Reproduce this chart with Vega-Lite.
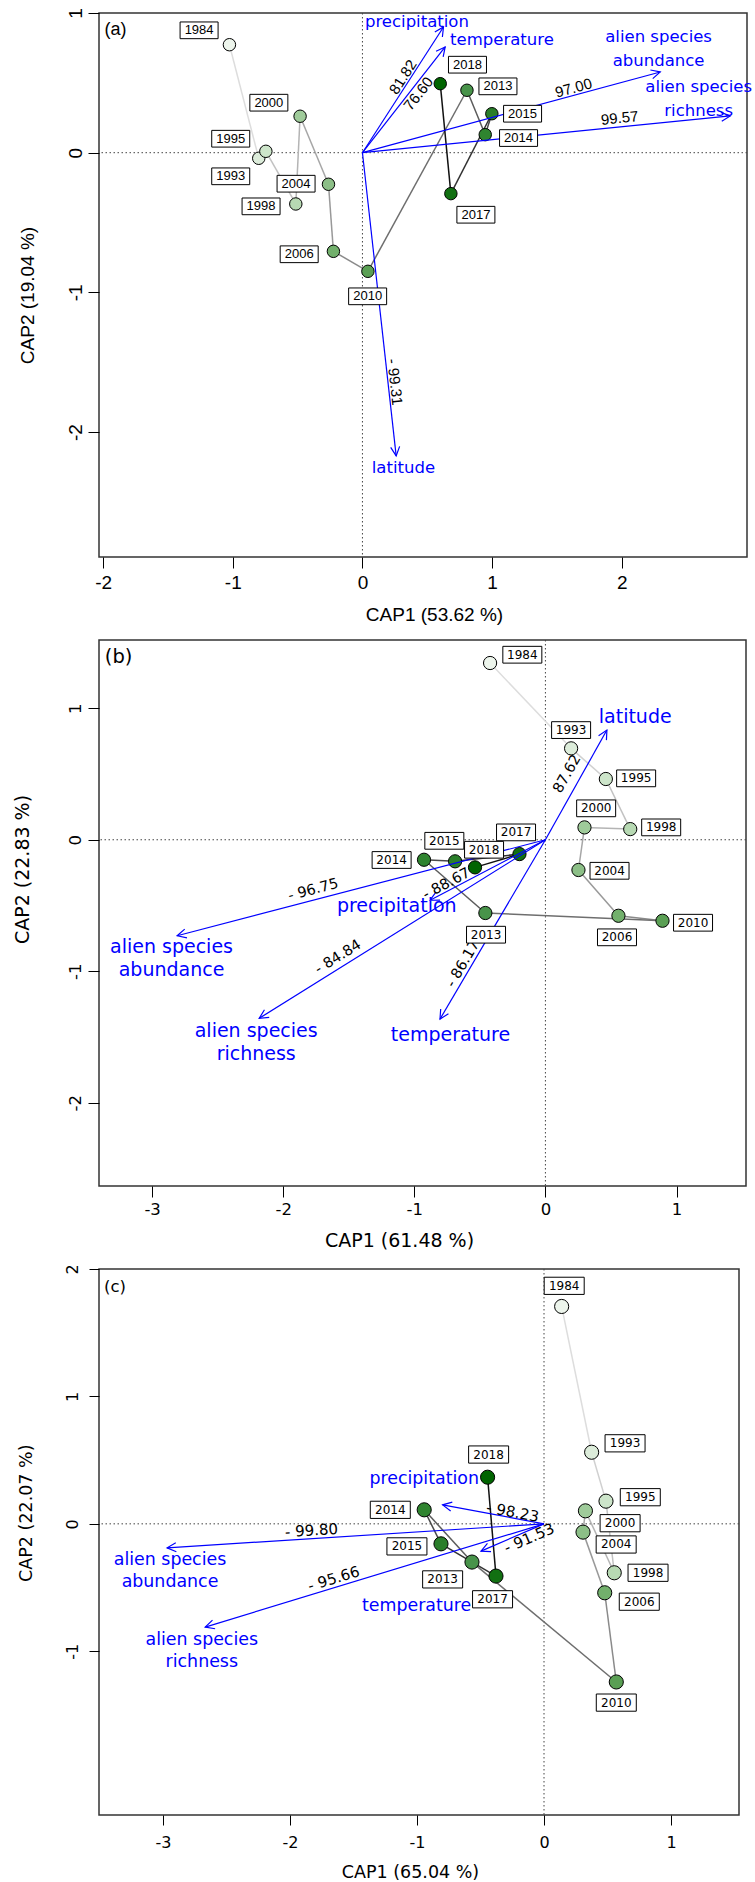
{
"$schema": "https://vega.github.io/schema/vega-lite/v6.json",
"background": "white",
"padding": {"left": 12, "top": 6, "right": 0, "bottom": 0},
"bounds": "flush",
"spacing": 83,
"resolve": {"scale": {"x": "independent", "y": "independent", "color": "independent", "fill": "independent"}},
"config": {
  "view": {"stroke": "#333", "strokeWidth": 1.5},
  "axis": {"grid": false, "domain": false, "tickColor": "#000", "tickWidth": 1, "labelColor": "#000", "titleColor": "#000", "titleFontWeight": "normal", "labelFlush": false, "labelOverlap": false}
},
"datasets": {
  "pa": [
    {"year": 1984, "x": -1.026, "y": 0.773, "lx": -1.26, "ly": 0.876},
    {"year": 1993, "x": -0.80, "y": -0.04, "lx": -1.016, "ly": -0.169},
    {"year": 1995, "x": -0.745, "y": 0.01, "lx": -1.016, "ly": 0.10},
    {"year": 1998, "x": -0.514, "y": -0.367, "lx": -0.782, "ly": -0.384},
    {"year": 2000, "x": -0.481, "y": 0.261, "lx": -0.722, "ly": 0.358},
    {"year": 2004, "x": -0.262, "y": -0.226, "lx": -0.512, "ly": -0.222},
    {"year": 2006, "x": -0.224, "y": -0.706, "lx": -0.488, "ly": -0.727},
    {"year": 2010, "x": 0.042, "y": -0.849, "lx": 0.04, "ly": -1.028},
    {"year": 2013, "x": 0.806, "y": 0.447, "lx": 1.045, "ly": 0.475},
    {"year": 2014, "x": 0.947, "y": 0.129, "lx": 1.204, "ly": 0.105},
    {"year": 2015, "x": 0.998, "y": 0.279, "lx": 1.235, "ly": 0.279},
    {"year": 2017, "x": 0.682, "y": -0.293, "lx": 0.875, "ly": -0.444},
    {"year": 2018, "x": 0.60, "y": 0.494, "lx": 0.81, "ly": 0.63}
  ],
  "pb": [
    {"year": 1984, "x": -0.422, "y": 1.344, "lx": -0.176, "ly": 1.407},
    {"year": 1993, "x": 0.196, "y": 0.695, "lx": 0.196, "ly": 0.834},
    {"year": 1995, "x": 0.461, "y": 0.462, "lx": 0.692, "ly": 0.467},
    {"year": 1998, "x": 0.647, "y": 0.081, "lx": 0.883, "ly": 0.094},
    {"year": 2000, "x": 0.298, "y": 0.094, "lx": 0.387, "ly": 0.239},
    {"year": 2004, "x": 0.252, "y": -0.230, "lx": 0.489, "ly": -0.236},
    {"year": 2006, "x": 0.557, "y": -0.578, "lx": 0.546, "ly": -0.742},
    {"year": 2010, "x": 0.893, "y": -0.616, "lx": 1.126, "ly": -0.631},
    {"year": 2013, "x": -0.458, "y": -0.557, "lx": -0.453, "ly": -0.722},
    {"year": 2014, "x": -0.926, "y": -0.152, "lx": -1.173, "ly": -0.154},
    {"year": 2015, "x": -0.689, "y": -0.164, "lx": -0.771, "ly": -0.008},
    {"year": 2017, "x": -0.198, "y": -0.109, "lx": -0.224, "ly": 0.056},
    {"year": 2018, "x": -0.537, "y": -0.210, "lx": -0.468, "ly": -0.076}
  ],
  "pc": [
    {"year": 1984, "x": 0.139, "y": 1.706, "lx": 0.159, "ly": 1.868},
    {"year": 1993, "x": 0.375, "y": 0.562, "lx": 0.638, "ly": 0.632},
    {"year": 1995, "x": 0.488, "y": 0.178, "lx": 0.758, "ly": 0.209},
    {"year": 1998, "x": 0.553, "y": -0.384, "lx": 0.819, "ly": -0.384},
    {"year": 2000, "x": 0.326, "y": 0.102, "lx": 0.599, "ly": 0.005},
    {"year": 2004, "x": 0.307, "y": -0.065, "lx": 0.568, "ly": -0.162},
    {"year": 2006, "x": 0.478, "y": -0.541, "lx": 0.75, "ly": -0.611},
    {"year": 2010, "x": 0.569, "y": -1.241, "lx": 0.569, "ly": -1.403},
    {"year": 2013, "x": -0.567, "y": -0.300, "lx": -0.798, "ly": -0.436},
    {"year": 2014, "x": -0.943, "y": 0.110, "lx": -1.21, "ly": 0.11},
    {"year": 2015, "x": -0.811, "y": -0.157, "lx": -1.079, "ly": -0.177},
    {"year": 2017, "x": -0.378, "y": -0.410, "lx": -0.405, "ly": -0.592},
    {"year": 2018, "x": -0.444, "y": 0.366, "lx": -0.436, "ly": 0.544}
  ],
  "aa": [
    {"v": "precipitation", "ax": 0.625, "ay": 0.90, "num": "81.82", "nx": 0.312, "ny": 0.542, "tx": 0.42, "ty": 0.936},
    {"v": "temperature", "ax": 0.638, "ay": 0.757, "num": "76.60", "nx": 0.432, "ny": 0.422, "tx": 1.076, "ty": 0.81},
    {"v": "alien species\nabundance", "ax": 2.297, "ay": 0.578, "num": "97.00", "nx": 1.628, "ny": 0.463, "tx": 2.284, "ty": 0.828},
    {"v": "alien species\nrichness", "ax": 2.837, "ay": 0.263, "num": "99.57", "nx": 1.983, "ny": 0.248, "tx": 2.593, "ty": 0.47},
    {"v": "latitude", "ax": 0.26, "ay": -2.17, "num": "- 99.31", "nx": 0.25, "ny": -1.641, "tx": 0.316, "ty": -2.26}
  ],
  "ab": [
    {"v": "latitude", "ax": 0.469, "ay": 0.834, "num": "87.62", "nx": 0.168, "ny": 0.50, "tx": 0.685, "ty": 0.931},
    {"v": "alien species\nabundance", "ax": -2.809, "ay": -0.730, "num": "- 96.75", "nx": -1.771, "ny": -0.383, "tx": -2.852, "ty": -0.813},
    {"v": "precipitation", "ax": -0.88, "ay": -0.46, "num": "- 88.67", "nx": -0.753, "ny": -0.337, "tx": -1.134, "ty": -0.502},
    {"v": "alien species\nrichness", "ax": -2.183, "ay": -1.358, "num": "- 84.84", "nx": -1.58, "ny": -0.894, "tx": -2.206, "ty": -1.452},
    {"v": "temperature", "ax": -0.804, "ay": -1.364, "num": "- 86.17", "nx": -0.626, "ny": -0.945, "tx": -0.724, "ty": -1.485}
  ],
  "ac": [
    {"v": "precipitation", "ax": -0.798, "ay": 0.149, "num": "- 98.23", "nx": -0.247, "ny": 0.092, "tx": -0.943, "ty": 0.353},
    {"v": "alien species\nabundance", "ax": -2.967, "ay": -0.188, "num": "- 99.80", "nx": -1.83, "ny": -0.052, "tx": -2.944, "ty": -0.286},
    {"v": "alien species\nrichness", "ax": -2.667, "ay": -0.81, "num": "- 95.66", "nx": -1.655, "ny": -0.431, "tx": -2.694, "ty": -0.913},
    {"v": "temperature", "ax": -0.496, "ay": -0.214, "num": "- 91.53", "nx": -0.116, "ny": -0.112, "tx": -1.003, "ty": -0.648}
  ]
},
"vconcat": [
{
  "width": 648, "height": 544,
  "layer": [
    {"data": {"values": [{"z": 0}]}, "mark": {"type": "rule", "color": "#444", "strokeDash": [1.5, 2.5], "strokeWidth": 1},
     "encoding": {"y": {"field": "z", "type": "quantitative", "scale": {"domain": [-2.894, 1.0], "nice": false, "zero": false}, "title": "CAP2 (19.04 %)"}}},
    {"data": {"values": [{"z": 0}]}, "mark": {"type": "rule", "color": "#444", "strokeDash": [1.5, 2.5], "strokeWidth": 1},
     "encoding": {"x": {"field": "z", "type": "quantitative", "scale": {"domain": [-2.032, 2.966], "nice": false, "zero": false}, "title": "CAP1 (53.62 %)"}}},
    {"data": {"name": "pa"},
     "transform": [{"window": [{"op": "lead", "field": "x", "as": "xe"}, {"op": "lead", "field": "y", "as": "ye"}], "sort": [{"field": "year", "order": "ascending"}]}, {"filter": "isValid(datum.xe)"}],
     "mark": {"type": "rule", "strokeWidth": 1.5},
     "encoding": {
       "x": {"field": "x", "type": "quantitative", "scale": {"domain": [-2.032, 2.966], "nice": false, "zero": false}, "title": "CAP1 (53.62 %)"},
       "y": {"field": "y", "type": "quantitative", "scale": {"domain": [-2.894, 1.0], "nice": false, "zero": false}, "title": "CAP2 (19.04 %)"},
       "x2": {"field": "xe"}, "y2": {"field": "ye"},
       "color": {"field": "year", "type": "ordinal", "legend": null, "scale": {"domain": [1984,1993,1995,1998,2000,2004,2006,2010,2013,2014,2015,2017,2018], "range": ["#dddddd","#d0d0d0","#c2c2c2","#b4b4b4","#a6a6a6","#999999","#8a8a8a","#6e6e6e","#5c5c5c","#4a4a4a","#333333","#111111","#000000"]}}
     }},
    {"data": {"name": "pa"},
     "mark": {"type": "point", "shape": "circle", "filled": true, "stroke": "#000", "strokeWidth": 1, "opacity": 1, "size": 155},
     "encoding": {
       "x": {"field": "x", "type": "quantitative", "scale": {"domain": [-2.032, 2.966], "nice": false, "zero": false}, "title": "CAP1 (53.62 %)",
             "axis": {"values": [-2, -1, 0, 1, 2], "labelExpr": "'' + datum.value", "tickSize": 11, "labelPadding": 5, "labelFont": "Liberation Sans", "labelFontSize": 19, "titleFont": "Liberation Sans", "titleFontSize": 19, "titleX": 335, "titleY": 57, "titleBaseline": "middle", "titleAlign": "center"}},
       "y": {"field": "y", "type": "quantitative", "scale": {"domain": [-2.894, 1.0], "nice": false, "zero": false}, "title": "CAP2 (19.04 %)",
             "axis": {"values": [-2, -1, 0, 1], "labelExpr": "'' + datum.value", "tickSize": 11, "labelPadding": 3, "labelAngle": -90, "labelAlign": "center", "labelBaseline": "bottom", "labelFont": "Liberation Sans", "labelFontSize": 19, "titleFont": "Liberation Sans", "titleFontSize": 19, "titleX": -72, "titleY": 282, "titleBaseline": "middle", "titleAlign": "center", "titleAngle": -90}},
       "fill": {"field": "year", "type": "ordinal", "legend": null, "scale": {"domain": [1984,1993,1995,1998,2000,2004,2006,2010,2013,2014,2015,2017,2018], "range": ["#edf5ec","#dcecda","#cde5ca","#b7d9b3","#9fcb9a","#8cbf87","#72b06c","#5a9f54","#48934a","#2f842f","#2a7e2a","#127012","#006400"]}}
     }},
    {"data": {"name": "aa"}, "mark": {"type": "rule", "color": "#0000ff", "strokeWidth": 1.2},
     "encoding": {
       "x": {"field": "ax", "type": "quantitative", "scale": {"domain": [-2.032, 2.966], "nice": false, "zero": false}, "title": "CAP1 (53.62 %)"},
       "y": {"field": "ay", "type": "quantitative", "scale": {"domain": [-2.894, 1.0], "nice": false, "zero": false}, "title": "CAP2 (19.04 %)"},
       "x2": {"datum": 0}, "y2": {"datum": 0}}},
    {"data": {"name": "aa"},
     "transform": [{"calculate": "atan2(datum.ax * 129.6, datum.ay * 139.7) * 180 / PI", "as": "ha"}],
     "mark": {"type": "point", "shape": "M-0.5,1L0,0L0.5,1", "filled": false, "stroke": "#0000ff", "strokeWidth": 1.2, "size": 324, "opacity": 1},
     "encoding": {
       "x": {"field": "ax", "type": "quantitative", "scale": {"domain": [-2.032, 2.966], "nice": false, "zero": false}, "title": "CAP1 (53.62 %)"},
       "y": {"field": "ay", "type": "quantitative", "scale": {"domain": [-2.894, 1.0], "nice": false, "zero": false}, "title": "CAP2 (19.04 %)"},
       "angle": {"field": "ha", "type": "quantitative", "scale": null}}},
    {"data": {"name": "aa"},
     "mark": {"type": "text", "color": "#0000ff", "font": "DejaVu Sans", "fontSize": 16.5, "lineBreak": "\n", "lineHeight": 24, "align": "center", "baseline": "middle"},
     "encoding": {
       "x": {"field": "tx", "type": "quantitative", "scale": {"domain": [-2.032, 2.966], "nice": false, "zero": false}, "title": "CAP1 (53.62 %)"},
       "y": {"field": "ty", "type": "quantitative", "scale": {"domain": [-2.894, 1.0], "nice": false, "zero": false}, "title": "CAP2 (19.04 %)"},
       "text": {"field": "v", "type": "nominal"}}},
    {"data": {"name": "aa"},
     "transform": [{"calculate": "atan2(-datum.ay * 139.7, datum.ax * 129.6) * 180 / PI", "as": "r0"}, {"calculate": "datum.r0 > 90 ? datum.r0 - 180 : (datum.r0 < -90 ? datum.r0 + 180 : datum.r0)", "as": "ra"}],
     "mark": {"type": "text", "color": "#000", "font": "Liberation Sans", "fontSize": 15, "align": "center", "baseline": "middle"},
     "encoding": {
       "x": {"field": "nx", "type": "quantitative", "scale": {"domain": [-2.032, 2.966], "nice": false, "zero": false}, "title": "CAP1 (53.62 %)"},
       "y": {"field": "ny", "type": "quantitative", "scale": {"domain": [-2.894, 1.0], "nice": false, "zero": false}, "title": "CAP2 (19.04 %)"},
       "text": {"field": "num", "type": "nominal"},
       "angle": {"field": "ra", "type": "quantitative", "scale": null}}},
    {"data": {"name": "pa"},
     "mark": {"type": "point", "shape": "M-1,-0.44L1,-0.44L1,0.44L-1,0.44Z", "filled": true, "fill": "#fff", "stroke": "#000", "strokeWidth": 1, "size": 1444, "opacity": 1},
     "encoding": {
       "x": {"field": "lx", "type": "quantitative", "scale": {"domain": [-2.032, 2.966], "nice": false, "zero": false}, "title": "CAP1 (53.62 %)"},
       "y": {"field": "ly", "type": "quantitative", "scale": {"domain": [-2.894, 1.0], "nice": false, "zero": false}, "title": "CAP2 (19.04 %)"}}},
    {"data": {"name": "pa"},
     "mark": {"type": "text", "color": "#000", "font": "Liberation Sans", "fontSize": 13, "align": "center", "baseline": "middle"},
     "encoding": {
       "x": {"field": "lx", "type": "quantitative", "scale": {"domain": [-2.032, 2.966], "nice": false, "zero": false}, "title": "CAP1 (53.62 %)"},
       "y": {"field": "ly", "type": "quantitative", "scale": {"domain": [-2.894, 1.0], "nice": false, "zero": false}, "title": "CAP2 (19.04 %)"},
       "text": {"field": "year", "type": "nominal"}}},
    {"data": {"values": [{"t": "(a)", "x": -1.99, "y": 0.876}]},
     "mark": {"type": "text", "color": "#000", "font": "Liberation Sans", "fontSize": 18, "align": "left", "baseline": "middle"},
     "encoding": {
       "x": {"field": "x", "type": "quantitative", "scale": {"domain": [-2.032, 2.966], "nice": false, "zero": false}, "title": "CAP1 (53.62 %)"},
       "y": {"field": "y", "type": "quantitative", "scale": {"domain": [-2.894, 1.0], "nice": false, "zero": false}, "title": "CAP2 (19.04 %)"},
       "text": {"field": "t", "type": "nominal"}}}
  ]
},
{
  "width": 647, "height": 546,
  "layer": [
    {"data": {"values": [{"z": 0}]}, "mark": {"type": "rule", "color": "#444", "strokeDash": [1.5, 2.5], "strokeWidth": 1},
     "encoding": {"y": {"field": "z", "type": "quantitative", "scale": {"domain": [-2.633, 1.519], "nice": false, "zero": false}, "title": "CAP2 (22.83 %)"}}},
    {"data": {"values": [{"z": 0}]}, "mark": {"type": "rule", "color": "#444", "strokeDash": [1.5, 2.5], "strokeWidth": 1},
     "encoding": {"x": {"field": "z", "type": "quantitative", "scale": {"domain": [-3.405, 1.53], "nice": false, "zero": false}, "title": "CAP1 (61.48 %)"}}},
    {"data": {"name": "pb"},
     "transform": [{"window": [{"op": "lead", "field": "x", "as": "xe"}, {"op": "lead", "field": "y", "as": "ye"}], "sort": [{"field": "year", "order": "ascending"}]}, {"filter": "isValid(datum.xe)"}],
     "mark": {"type": "rule", "strokeWidth": 1.5},
     "encoding": {
       "x": {"field": "x", "type": "quantitative", "scale": {"domain": [-3.405, 1.53], "nice": false, "zero": false}, "title": "CAP1 (61.48 %)"},
       "y": {"field": "y", "type": "quantitative", "scale": {"domain": [-2.633, 1.519], "nice": false, "zero": false}, "title": "CAP2 (22.83 %)"},
       "x2": {"field": "xe"}, "y2": {"field": "ye"},
       "color": {"field": "year", "type": "ordinal", "legend": null, "scale": {"domain": [1984,1993,1995,1998,2000,2004,2006,2010,2013,2014,2015,2017,2018], "range": ["#dddddd","#d0d0d0","#c2c2c2","#b4b4b4","#a6a6a6","#999999","#8a8a8a","#6e6e6e","#5c5c5c","#4a4a4a","#333333","#111111","#000000"]}}
     }},
    {"data": {"name": "pb"},
     "mark": {"type": "point", "shape": "circle", "filled": true, "stroke": "#000", "strokeWidth": 1, "opacity": 1, "size": 175},
     "encoding": {
       "x": {"field": "x", "type": "quantitative", "scale": {"domain": [-3.405, 1.53], "nice": false, "zero": false}, "title": "CAP1 (61.48 %)",
             "axis": {"values": [-3, -2, -1, 0, 1], "labelExpr": "'' + datum.value", "tickSize": 11, "labelPadding": 4, "labelFont": "DejaVu Sans", "labelFontSize": 16.5, "titleFont": "DejaVu Sans", "titleFontSize": 19, "titleX": 300, "titleY": 54, "titleBaseline": "middle", "titleAlign": "center"}},
       "y": {"field": "y", "type": "quantitative", "scale": {"domain": [-2.633, 1.519], "nice": false, "zero": false}, "title": "CAP2 (22.83 %)",
             "axis": {"values": [-2, -1, 0, 1], "labelExpr": "'' + datum.value", "tickSize": 11, "labelPadding": 5, "labelAngle": -90, "labelAlign": "center", "labelBaseline": "bottom", "labelFont": "DejaVu Sans", "labelFontSize": 16.5, "titleFont": "DejaVu Sans", "titleFontSize": 19, "titleX": -77, "titleY": 229, "titleBaseline": "middle", "titleAlign": "center", "titleAngle": -90}},
       "fill": {"field": "year", "type": "ordinal", "legend": null, "scale": {"domain": [1984,1993,1995,1998,2000,2004,2006,2010,2013,2014,2015,2017,2018], "range": ["#edf5ec","#dcecda","#cde5ca","#b7d9b3","#9fcb9a","#8cbf87","#72b06c","#5a9f54","#48934a","#2f842f","#2a7e2a","#127012","#006400"]}}
     }},
    {"data": {"name": "ab"}, "mark": {"type": "rule", "color": "#0000ff", "strokeWidth": 1.2},
     "encoding": {
       "x": {"field": "ax", "type": "quantitative", "scale": {"domain": [-3.405, 1.53], "nice": false, "zero": false}, "title": "CAP1 (61.48 %)"},
       "y": {"field": "ay", "type": "quantitative", "scale": {"domain": [-2.633, 1.519], "nice": false, "zero": false}, "title": "CAP2 (22.83 %)"},
       "x2": {"datum": 0}, "y2": {"datum": 0}}},
    {"data": {"name": "ab"},
     "transform": [{"calculate": "atan2(datum.ax * 131.1, datum.ay * 131.5) * 180 / PI", "as": "ha"}],
     "mark": {"type": "point", "shape": "M-0.5,1L0,0L0.5,1", "filled": false, "stroke": "#0000ff", "strokeWidth": 1.2, "size": 324, "opacity": 1},
     "encoding": {
       "x": {"field": "ax", "type": "quantitative", "scale": {"domain": [-3.405, 1.53], "nice": false, "zero": false}, "title": "CAP1 (61.48 %)"},
       "y": {"field": "ay", "type": "quantitative", "scale": {"domain": [-2.633, 1.519], "nice": false, "zero": false}, "title": "CAP2 (22.83 %)"},
       "angle": {"field": "ha", "type": "quantitative", "scale": null}}},
    {"data": {"name": "ab"},
     "mark": {"type": "text", "color": "#0000ff", "font": "DejaVu Sans", "fontSize": 19, "lineBreak": "\n", "lineHeight": 23.3, "align": "center", "baseline": "middle"},
     "encoding": {
       "x": {"field": "tx", "type": "quantitative", "scale": {"domain": [-3.405, 1.53], "nice": false, "zero": false}, "title": "CAP1 (61.48 %)"},
       "y": {"field": "ty", "type": "quantitative", "scale": {"domain": [-2.633, 1.519], "nice": false, "zero": false}, "title": "CAP2 (22.83 %)"},
       "text": {"field": "v", "type": "nominal"}}},
    {"data": {"name": "ab"},
     "transform": [{"calculate": "atan2(-datum.ay * 131.5, datum.ax * 131.1) * 180 / PI", "as": "r0"}, {"calculate": "datum.r0 > 90 ? datum.r0 - 180 : (datum.r0 < -90 ? datum.r0 + 180 : datum.r0)", "as": "ra"}],
     "mark": {"type": "text", "color": "#000", "font": "DejaVu Sans", "fontSize": 14.5, "align": "center", "baseline": "middle"},
     "encoding": {
       "x": {"field": "nx", "type": "quantitative", "scale": {"domain": [-3.405, 1.53], "nice": false, "zero": false}, "title": "CAP1 (61.48 %)"},
       "y": {"field": "ny", "type": "quantitative", "scale": {"domain": [-2.633, 1.519], "nice": false, "zero": false}, "title": "CAP2 (22.83 %)"},
       "text": {"field": "num", "type": "nominal"},
       "angle": {"field": "ra", "type": "quantitative", "scale": null}}},
    {"data": {"name": "pb"},
     "mark": {"type": "point", "shape": "M-1,-0.43L1,-0.43L1,0.43L-1,0.43Z", "filled": true, "fill": "#fff", "stroke": "#000", "strokeWidth": 1, "size": 1521, "opacity": 1},
     "encoding": {
       "x": {"field": "lx", "type": "quantitative", "scale": {"domain": [-3.405, 1.53], "nice": false, "zero": false}, "title": "CAP1 (61.48 %)"},
       "y": {"field": "ly", "type": "quantitative", "scale": {"domain": [-2.633, 1.519], "nice": false, "zero": false}, "title": "CAP2 (22.83 %)"}}},
    {"data": {"name": "pb"},
     "mark": {"type": "text", "color": "#000", "font": "DejaVu Sans", "fontSize": 12, "align": "center", "baseline": "middle"},
     "encoding": {
       "x": {"field": "lx", "type": "quantitative", "scale": {"domain": [-3.405, 1.53], "nice": false, "zero": false}, "title": "CAP1 (61.48 %)"},
       "y": {"field": "ly", "type": "quantitative", "scale": {"domain": [-2.633, 1.519], "nice": false, "zero": false}, "title": "CAP2 (22.83 %)"},
       "text": {"field": "year", "type": "nominal"}}},
    {"data": {"values": [{"t": "(b)", "x": -3.361, "y": 1.387}]},
     "mark": {"type": "text", "color": "#000", "font": "DejaVu Sans", "fontSize": 19.5, "align": "left", "baseline": "middle"},
     "encoding": {
       "x": {"field": "x", "type": "quantitative", "scale": {"domain": [-3.405, 1.53], "nice": false, "zero": false}, "title": "CAP1 (61.48 %)"},
       "y": {"field": "y", "type": "quantitative", "scale": {"domain": [-2.633, 1.519], "nice": false, "zero": false}, "title": "CAP2 (22.83 %)"},
       "text": {"field": "t", "type": "nominal"}}}
  ]
},
{
  "width": 640, "height": 546,
  "layer": [
    {"data": {"values": [{"z": 0}]}, "mark": {"type": "rule", "color": "#444", "strokeDash": [1.5, 2.5], "strokeWidth": 1},
     "encoding": {"y": {"field": "z", "type": "quantitative", "scale": {"domain": [-2.285, 2.0], "nice": false, "zero": false}, "title": "CAP2 (22.07 %)"}}},
    {"data": {"values": [{"z": 0}]}, "mark": {"type": "rule", "color": "#444", "strokeDash": [1.5, 2.5], "strokeWidth": 1},
     "encoding": {"x": {"field": "z", "type": "quantitative", "scale": {"domain": [-3.503, 1.535], "nice": false, "zero": false}, "title": "CAP1 (65.04 %)"}}},
    {"data": {"name": "pc"},
     "transform": [{"window": [{"op": "lead", "field": "x", "as": "xe"}, {"op": "lead", "field": "y", "as": "ye"}], "sort": [{"field": "year", "order": "ascending"}]}, {"filter": "isValid(datum.xe)"}],
     "mark": {"type": "rule", "strokeWidth": 1.5},
     "encoding": {
       "x": {"field": "x", "type": "quantitative", "scale": {"domain": [-3.503, 1.535], "nice": false, "zero": false}, "title": "CAP1 (65.04 %)"},
       "y": {"field": "y", "type": "quantitative", "scale": {"domain": [-2.285, 2.0], "nice": false, "zero": false}, "title": "CAP2 (22.07 %)"},
       "x2": {"field": "xe"}, "y2": {"field": "ye"},
       "color": {"field": "year", "type": "ordinal", "legend": null, "scale": {"domain": [1984,1993,1995,1998,2000,2004,2006,2010,2013,2014,2015,2017,2018], "range": ["#dddddd","#d0d0d0","#c2c2c2","#b4b4b4","#a6a6a6","#999999","#8a8a8a","#6e6e6e","#5c5c5c","#4a4a4a","#333333","#111111","#000000"]}}
     }},
    {"data": {"name": "pc"},
     "mark": {"type": "point", "shape": "circle", "filled": true, "stroke": "#000", "strokeWidth": 1, "opacity": 1, "size": 200},
     "encoding": {
       "x": {"field": "x", "type": "quantitative", "scale": {"domain": [-3.503, 1.535], "nice": false, "zero": false}, "title": "CAP1 (65.04 %)",
             "axis": {"values": [-3, -2, -1, 0, 1], "labelExpr": "'' + datum.value", "tickSize": 10, "labelPadding": 9, "labelFont": "DejaVu Sans", "labelFontSize": 16, "titleFont": "DejaVu Sans", "titleFontSize": 17.5, "titleX": 311, "titleY": 57, "titleBaseline": "middle", "titleAlign": "center"}},
       "y": {"field": "y", "type": "quantitative", "scale": {"domain": [-2.285, 2.0], "nice": false, "zero": false}, "title": "CAP2 (22.07 %)",
             "axis": {"values": [-1, 0, 1, 2], "labelExpr": "'' + datum.value", "tickSize": 10, "labelPadding": 9, "labelAngle": -90, "labelAlign": "center", "labelBaseline": "bottom", "labelFont": "DejaVu Sans", "labelFontSize": 16, "titleFont": "DejaVu Sans", "titleFontSize": 17.5, "titleX": -72.7, "titleY": 243.7, "titleBaseline": "middle", "titleAlign": "center", "titleAngle": -90}},
       "fill": {"field": "year", "type": "ordinal", "legend": null, "scale": {"domain": [1984,1993,1995,1998,2000,2004,2006,2010,2013,2014,2015,2017,2018], "range": ["#edf5ec","#dcecda","#cde5ca","#b7d9b3","#9fcb9a","#8cbf87","#72b06c","#5a9f54","#48934a","#2f842f","#2a7e2a","#127012","#006400"]}}
     }},
    {"data": {"name": "ac"}, "mark": {"type": "rule", "color": "#0000ff", "strokeWidth": 1.2},
     "encoding": {
       "x": {"field": "ax", "type": "quantitative", "scale": {"domain": [-3.503, 1.535], "nice": false, "zero": false}, "title": "CAP1 (65.04 %)"},
       "y": {"field": "ay", "type": "quantitative", "scale": {"domain": [-2.285, 2.0], "nice": false, "zero": false}, "title": "CAP2 (22.07 %)"},
       "x2": {"datum": 0}, "y2": {"datum": 0}}},
    {"data": {"name": "ac"},
     "transform": [{"calculate": "atan2(datum.ax * 127.0, datum.ay * 127.4) * 180 / PI", "as": "ha"}],
     "mark": {"type": "point", "shape": "M-0.5,1L0,0L0.5,1", "filled": false, "stroke": "#0000ff", "strokeWidth": 1.2, "size": 324, "opacity": 1},
     "encoding": {
       "x": {"field": "ax", "type": "quantitative", "scale": {"domain": [-3.503, 1.535], "nice": false, "zero": false}, "title": "CAP1 (65.04 %)"},
       "y": {"field": "ay", "type": "quantitative", "scale": {"domain": [-2.285, 2.0], "nice": false, "zero": false}, "title": "CAP2 (22.07 %)"},
       "angle": {"field": "ha", "type": "quantitative", "scale": null}}},
    {"data": {"name": "ac"},
     "mark": {"type": "text", "color": "#0000ff", "font": "DejaVu Sans", "fontSize": 17.4, "lineBreak": "\n", "lineHeight": 21.7, "align": "center", "baseline": "middle"},
     "encoding": {
       "x": {"field": "tx", "type": "quantitative", "scale": {"domain": [-3.503, 1.535], "nice": false, "zero": false}, "title": "CAP1 (65.04 %)"},
       "y": {"field": "ty", "type": "quantitative", "scale": {"domain": [-2.285, 2.0], "nice": false, "zero": false}, "title": "CAP2 (22.07 %)"},
       "text": {"field": "v", "type": "nominal"}}},
    {"data": {"name": "ac"},
     "transform": [{"calculate": "atan2(-datum.ay * 127.4, datum.ax * 127.0) * 180 / PI", "as": "r0"}, {"calculate": "datum.r0 > 90 ? datum.r0 - 180 : (datum.r0 < -90 ? datum.r0 + 180 : datum.r0)", "as": "ra"}],
     "mark": {"type": "text", "color": "#000", "font": "DejaVu Sans", "fontSize": 15, "align": "center", "baseline": "middle"},
     "encoding": {
       "x": {"field": "nx", "type": "quantitative", "scale": {"domain": [-3.503, 1.535], "nice": false, "zero": false}, "title": "CAP1 (65.04 %)"},
       "y": {"field": "ny", "type": "quantitative", "scale": {"domain": [-2.285, 2.0], "nice": false, "zero": false}, "title": "CAP2 (22.07 %)"},
       "text": {"field": "num", "type": "nominal"},
       "angle": {"field": "ra", "type": "quantitative", "scale": null}}},
    {"data": {"name": "pc"},
     "mark": {"type": "point", "shape": "M-1,-0.43L1,-0.43L1,0.43L-1,0.43Z", "filled": true, "fill": "#fff", "stroke": "#000", "strokeWidth": 1, "size": 1600, "opacity": 1},
     "encoding": {
       "x": {"field": "lx", "type": "quantitative", "scale": {"domain": [-3.503, 1.535], "nice": false, "zero": false}, "title": "CAP1 (65.04 %)"},
       "y": {"field": "ly", "type": "quantitative", "scale": {"domain": [-2.285, 2.0], "nice": false, "zero": false}, "title": "CAP2 (22.07 %)"}}},
    {"data": {"name": "pc"},
     "mark": {"type": "text", "color": "#000", "font": "DejaVu Sans", "fontSize": 12, "align": "center", "baseline": "middle"},
     "encoding": {
       "x": {"field": "lx", "type": "quantitative", "scale": {"domain": [-3.503, 1.535], "nice": false, "zero": false}, "title": "CAP1 (65.04 %)"},
       "y": {"field": "ly", "type": "quantitative", "scale": {"domain": [-2.285, 2.0], "nice": false, "zero": false}, "title": "CAP2 (22.07 %)"},
       "text": {"field": "year", "type": "nominal"}}},
    {"data": {"values": [{"t": "(c)", "x": -3.464, "y": 1.855}]},
     "mark": {"type": "text", "color": "#000", "font": "DejaVu Sans", "fontSize": 16.5, "align": "left", "baseline": "middle"},
     "encoding": {
       "x": {"field": "x", "type": "quantitative", "scale": {"domain": [-3.503, 1.535], "nice": false, "zero": false}, "title": "CAP1 (65.04 %)"},
       "y": {"field": "y", "type": "quantitative", "scale": {"domain": [-2.285, 2.0], "nice": false, "zero": false}, "title": "CAP2 (22.07 %)"},
       "text": {"field": "t", "type": "nominal"}}}
  ]
}
]
}
